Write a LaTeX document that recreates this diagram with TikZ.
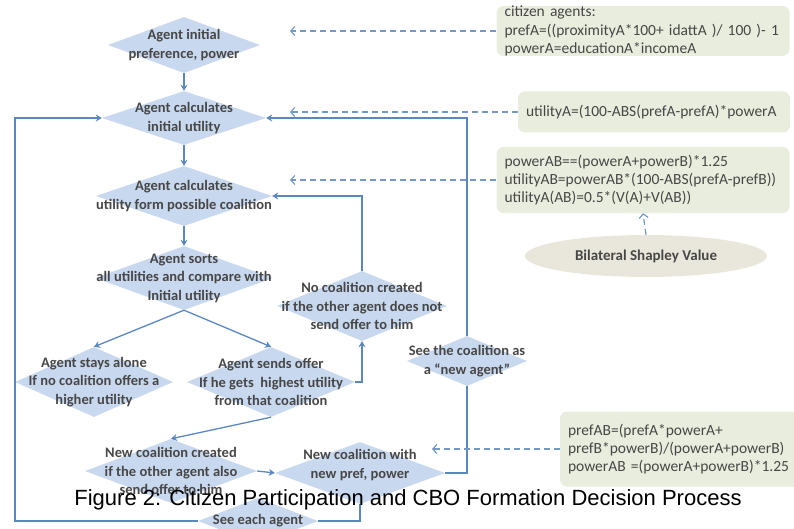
\documentclass[tikz,border=0pt]{standalone}
\usepackage{fontspec}
\newfontfamily\carlito{Carlito}
\newfontfamily\arialike{Liberation Sans}
\usetikzlibrary{
    arrows.meta,
    shapes.geometric,
    positioning
}
\definecolor{diafill}{HTML}{C8D8EE}
\definecolor{flowblue}{HTML}{5B87C0}
\definecolor{notefill}{HTML}{E9EDDD}
\definecolor{ovalfill}{HTML}{E9E7DB}
\definecolor{inkgray}{HTML}{474747}
\tikzstyle{decision} = [
    diamond,
    fill=diafill,
    inner sep=0pt
]
\tikzstyle{dtext} = [
    align=center,
    inner sep=0pt,
    text=inkgray,
    font=\carlito\bfseries\fontsize{14.5}{18.5}\selectfont
]
\tikzstyle{note} = [
    rectangle,
    rounded corners=7pt,
    fill=notefill,
    align=left,
    inner xsep=8pt,
    inner ysep=0pt,
    text=inkgray,
    execute at begin node={\hyphenpenalty=10000},
    font=\carlito\fontsize{15.5}{18.3}\selectfont
]
\tikzstyle{oval} = [
    ellipse,
    fill=ovalfill,
    inner sep=0pt,
    text=inkgray,
    font=\carlito\bfseries\fontsize{15}{18}\selectfont
]
\tikzstyle{flow} = [
    -{Stealth[length=6pt,width=7pt]},
    line width=1.3pt,
    draw=flowblue
]
\tikzstyle{link} = [
    line width=1.3pt,
    draw=flowblue
]
\tikzstyle{dep} = [
    -{Straight Barb[length=4pt,width=9pt]},
    dash pattern=on 6pt off 4pt,
    line width=1.2pt,
    draw=flowblue!85
]
\begin{document}
\begin{tikzpicture}[x=1pt, y=-1pt]
    \useasboundingbox (0,0) rectangle (794,529);

    % Decision steps
    \node[decision, minimum width=152pt, minimum height=56pt,
        label={[dtext]center:Agent initial\\preference, power}] (init) at (184,45) {};
    \node[decision, minimum width=164pt, minimum height=54pt,
        label={[dtext]center:Agent calculates\\initial utility}] (calc) at (184,118) {};
    \node[decision, minimum width=176pt, minimum height=60pt,
        label={[dtext]center:Agent calculates\\utility form possible coalition}] (coal) at (184,196) {};
    \node[decision, minimum width=178pt, minimum height=64pt,
        label={[dtext]center:Agent sorts\\all utilities and compare with\\Initial utility}] (sorts) at (184,278) {};
    \node[decision, minimum width=158pt, minimum height=70pt,
        label={[dtext]center:Agent stays alone\\If no coalition offers a\\higher utility}] (alone) at (94,382) {};
    \node[decision, minimum width=168pt, minimum height=70pt,
        label={[dtext]center:Agent sends offer\\If he gets~ highest utility\\from that coalition}] (offer) at (271,382) {};
    \node[decision, minimum width=170pt, minimum height=70pt,
        label={[dtext]center:No coalition created\\if the other agent does not\\send offer to him}] (nocoal) at (362,306) {};
    \node[decision, minimum width=120pt, minimum height=50pt,
        label={[dtext]center:See the coalition as\\a “new agent”}] (newag) at (467,361) {};
    \node[decision, minimum width=172pt, minimum height=64pt,
        label={[dtext]center:New coalition created\\if the other agent also\\send offer to him}] (created) at (171,471) {};
    \node[decision, minimum width=170pt, minimum height=62pt,
        label={[dtext]center:New coalition with\\new pref, power\\\mbox{}}] (newc) at (360,473) {};
    \node[decision, minimum width=120pt, minimum height=46pt,
        label={[dtext]center:See each agent}] (each) at (258,521) {};

    % Formula notes
    \node[note, text width=277pt, minimum height=50pt] (citizen) at (643,31)
        {citizen agents:\\prefA=((proximityA*100+ idattA )/ 100 )- 1\\powerA=educationA*incomeA};
    \node[note, text width=256pt, minimum height=41pt] (utilnote) at (654,112)
        {utilityA=(100-ABS(prefA-prefA)*powerA};
    \node[note, text width=277pt, minimum height=66pt] (coalnote) at (643,180)
        {powerAB==(powerA+powerB)*1.25\\utilityAB=powerAB*(100-ABS(prefA-prefB))\\utilityA(AB)=0.5*(V(A)+V(AB))};
    \node[oval, minimum width=242pt, minimum height=42pt] (shapley) at (646,256)
        {Bilateral Shapley Value};
    \node[note, text width=228pt, minimum height=75pt] (mergenote) at (682,449)
        {prefAB=(prefA*powerA+\\prefB*powerB)/(powerA+powerB)\\powerAB =(powerA+powerB)*1.25};

    % Main flow
    \draw[flow] (init.south) -- (calc.north);
    \draw[flow] (calc.south) -- (coal.north);
    \draw[flow] (coal.south) -- (sorts.north);
    \draw[flow] (sorts.south) -- (alone.north);
    \draw[flow] (sorts.south) -- (offer.north);
    \draw[flow] (offer.east) -| (nocoal.south);
    \draw[flow] (nocoal.north) |- (coal.east);
    \draw[flow] (offer.south) -- (created.north);
    \draw[flow] (created.east) -- (newc.west);
    \draw[link] (newc.east) -| (newag.south);
    \draw[flow] (newag.north) |- (calc.east);
    \draw[link] (newc.south) |- (each.east);
    \coordinate (loop) at (15,521);
    \draw[flow] (each.west) -- (loop) |- (calc.west);

    % Notes feeding the steps
    \coordinate (citizen-in) at (290,31);
    \coordinate (util-in) at (290,112);
    \coordinate (coal-in) at (290,180);
    \coordinate (merge-in) at (432,449);
    \draw[dep] (citizen.west) -- (citizen-in);
    \draw[dep] (utilnote.west) -- (util-in);
    \draw[dep] (coalnote.west) -- (coal-in);
    \draw[dep] (shapley.north) -- (coalnote.south);
    \draw[dep] (mergenote.west) -- (merge-in);

    % Caption
    \node[anchor=base, inner sep=0pt, font=\arialike\fontsize{22}{26}\selectfont] (caption) at (408,505)
        {Figure 2: Citizen Participation and CBO Formation Decision Process};
\end{tikzpicture}
\end{document}
